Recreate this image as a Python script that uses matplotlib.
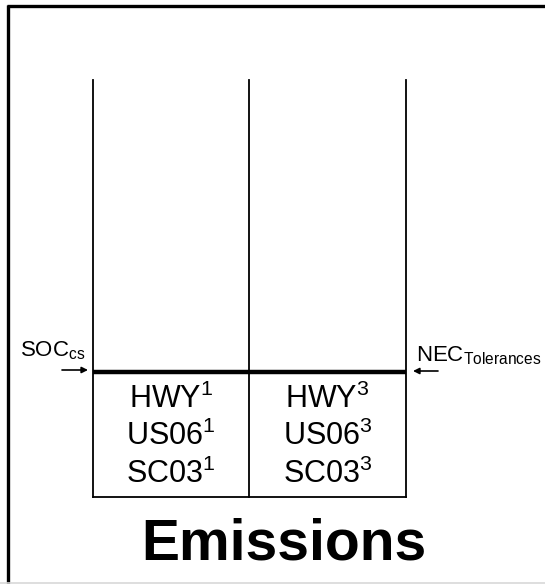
import matplotlib
matplotlib.use("Agg")
from matplotlib import pyplot as plt

plt.rcParams['font.family'] = ['Liberation Sans', 'DejaVu Sans']
plt.rcParams['mathtext.fontset'] = 'custom'
plt.rcParams['mathtext.rm'] = 'Liberation Sans'
plt.rcParams['mathtext.it'] = 'Liberation Sans'
plt.rcParams['mathtext.bf'] = 'Liberation Sans:bold'

# layout in pixel units of the original picture
col_edges = [93, 249, 406]
top_y = 80
split_y = 372
bottom_y = 497

cycles = ["HWY", "US06", "SC03"]
col_marks = ["1", "3"]
row_y = [399, 436, 474]

fig = plt.figure(figsize=(5.45, 5.84), dpi=100)
ax = fig.add_axes([0, 0, 1, 1])
ax.set_xlim(0, 545)
ax.set_ylim(584, 0)
ax.axis("off")

# frame of the picture
ax.plot([8, 8], [5, 584], color="black", lw=2.4, solid_capstyle="butt")
ax.plot([7, 545], [6, 6], color="black", lw=2.4, solid_capstyle="butt")
ax.plot([0, 545], [582.5, 582.5], color="#d8d8d8", lw=1.2)

# columns
for x in col_edges:
    ax.plot([x, x], [top_y, bottom_y], color="black", lw=1.3)
ax.plot([col_edges[0], col_edges[-1]], [split_y, split_y], color="black", lw=3.2,
        solid_capstyle="butt")
ax.plot([col_edges[0], col_edges[-1]], [bottom_y, bottom_y], color="black", lw=1.3)

for i, mark in enumerate(col_marks):
    cx = (col_edges[i] + col_edges[i + 1]) / 2
    for name, y in zip(cycles, row_y):
        ax.text(cx, y, name + r"$^{" + mark + "}$", fontsize=22, ha="center",
                va="center")

# side labels with arrows
ax.text(20, 351, r"SOC$_{\mathrm{cs}}$", fontsize=16, ha="left", va="center")
ax.annotate("", xy=(88, 370), xytext=(62, 370),
            arrowprops=dict(arrowstyle="-|>", color="black", lw=1.2,
                            mutation_scale=9, shrinkA=0, shrinkB=0))
ax.text(416, 356, r"NEC$_{\mathrm{Tolerances}}$", fontsize=16, ha="left",
        va="center")
ax.annotate("", xy=(413, 371), xytext=(438, 371),
            arrowprops=dict(arrowstyle="-|>", color="black", lw=1.2,
                            mutation_scale=9, shrinkA=0, shrinkB=0))

ax.text(284, 544, "Emissions", fontsize=41, fontweight="bold", ha="center",
        va="center")

fig.savefig("out.png", dpi=100)
